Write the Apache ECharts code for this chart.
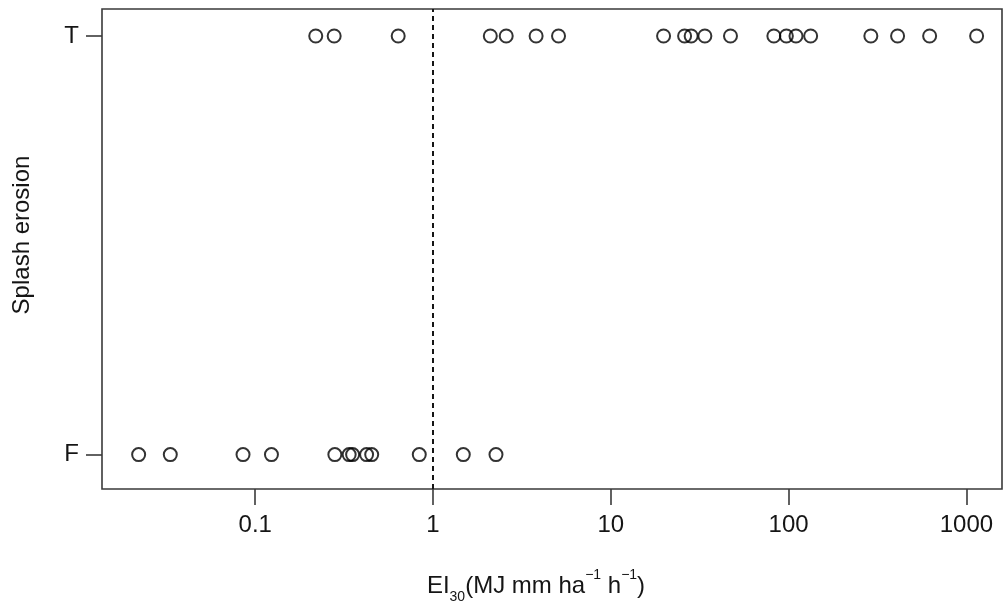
<!DOCTYPE html>
<html>
<head>
<meta charset="utf-8">
<title>Splash erosion vs EI30</title>
<script src="https://cdn.jsdelivr.net/npm/echarts@6/dist/echarts.min.js"></script>
<style>
  html, body { margin: 0; padding: 0; background: #fff; }
  #chart { width: 1006px; height: 610px; }
</style>
</head>
<body>
<div id="chart"></div>
<script>
// Rainfall erosivity (EI30) of events, split by whether splash erosion occurred
const outcomeLabels = ['F', 'T'];
const eventsT = [0.219, 0.278, 0.637, 2.10, 2.58, 3.80, 5.08, 19.8, 26.0, 28.3, 33.8, 47.1,
                 82.6, 97.1, 110, 133, 290, 410, 621, 1141];
const eventsF = [0.0221, 0.0333, 0.0854, 0.1234, 0.2805, 0.3376, 0.353, 0.423, 0.452,
                 0.837, 1.48, 2.26];
const xTickValues = [0.1, 1, 10, 100, 1000];
const threshold = 1;

const ink = '#151515';
const font = '"Liberation Sans", Arial, sans-serif';

const points = eventsF.map(v => [v, 0]).concat(eventsT.map(v => [v, 1]));

const chart = echarts.init(document.getElementById('chart'), null, { renderer: 'canvas' });
chart.setOption({
  backgroundColor: '#fff',
  animation: false,
  grid: {
    left: 102, right: 4, top: 9, bottom: 121,
    show: true, borderColor: '#3a3a3a', borderWidth: 1.6, backgroundColor: 'transparent'
  },
  xAxis: {
    type: 'log',
    logBase: 10,
    min: 0.01375,
    max: 1585,
    axisLine: { show: false, onZero: false },
    splitLine: { show: false },
    minorTick: { show: false },
    axisTick: {
      show: true, inside: false, length: 16,
      lineStyle: { color: '#3a3a3a', width: 1.6 },
      customValues: xTickValues
    },
    axisLabel: {
      customValues: xTickValues,
      margin: 24,
      color: ink,
      fontFamily: font,
      fontSize: 24,
      formatter: v => String(v)
    }
  },
  yAxis: {
    type: 'value',
    min: -0.0822,
    max: 1.0645,
    axisLine: { show: false, onZero: false },
    splitLine: { show: false },
    axisTick: {
      show: true, inside: false, length: 16,
      lineStyle: { color: '#3a3a3a', width: 1.6 },
      customValues: [0, 1]
    },
    axisLabel: {
      customValues: [0, 1],
      margin: 23,
      color: ink,
      fontFamily: font,
      fontSize: 24,
      formatter: v => outcomeLabels[Math.round(v)]
    }
  },
  series: [{
    type: 'scatter',
    data: points,
    symbol: 'circle',
    symbolSize: 13,
    itemStyle: { color: 'transparent', borderColor: '#000', borderWidth: 2 },
    emphasis: { disabled: true },
    markLine: {
      silent: true,
      symbol: 'none',
      label: { show: false },
      lineStyle: { color: ink, width: 2, type: [5, 4] },
      data: [{ xAxis: threshold }]
    }
  }],
  graphic: [
    {
      type: 'text',
      x: 22, y: 235,
      rotation: Math.PI / 2,
      style: {
        text: 'Splash erosion',
        fill: ink,
        font: '24px ' + font,
        textAlign: 'center',
        textVerticalAlign: 'middle'
      }
    },
    {
      type: 'text',
      x: 536, y: 586,
      style: {
        text: '{b|EI}{sub|30}{b|(MJ mm ha}{sup|−1}{b| h}{sup|−1}{b|)}',
        textAlign: 'center',
        textVerticalAlign: 'middle',
        rich: {
          b: { fontSize: 24, lineHeight: 36, fontFamily: font, fill: ink, color: ink, verticalAlign: 'middle' },
          sub: { fontSize: 14, lineHeight: 14, fontFamily: font, fill: ink, color: ink, verticalAlign: 'bottom' },
          sup: { fontSize: 14, lineHeight: 33, fontFamily: font, fill: ink, color: ink, verticalAlign: 'top' }
        }
      }
    }
  ]
});
</script>
</body>
</html>
